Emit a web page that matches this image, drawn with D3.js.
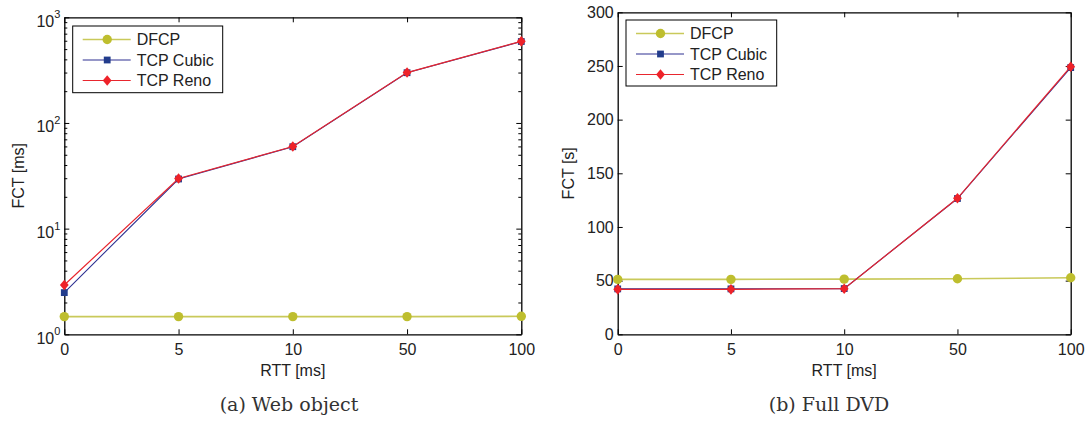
<!DOCTYPE html>
<html>
<head>
<meta charset="utf-8">
<script src="https://cdn.jsdelivr.net/npm/d3@7"></script>
<style>
  html, body { margin: 0; padding: 0; background: #fff; }
  svg { display: block; }
  .tick text { font-family: "Liberation Sans", Arial, sans-serif; font-size: 16px; fill: #222; }
  .lbl { font-family: "Liberation Sans", Arial, sans-serif; font-size: 16px; fill: #222; }
  .cap { font-family: "DejaVu Serif", "Liberation Serif", serif; font-size: 19px; fill: #333; }
</style>
</head>
<body>
<svg id="chart" width="1089" height="421"></svg>
<script>
// RTT categories (evenly spaced on the x axis)
const rtt = ["0", "5", "10", "50", "100"];

// (a) Web object: flow completion time in ms
const webDFCP  = [1.47, 1.47, 1.47, 1.47, 1.48];
const webCubic = [2.48, 29.5, 59.6, 299, 590];
const webReno  = [2.93, 29.8, 59.8, 300, 592];

// (b) Full DVD: flow completion time in s
const dvdDFCP  = [51.2, 51.2, 51.4, 51.8, 52.7];
const dvdCubic = [42.3, 42.3, 42.6, 126.5, 248.5];
const dvdReno  = [41.9, 41.9, 42.5, 126.7, 249.3];

// Tick values
const webYTicks = [1, 10, 100, 1000];
const dvdYTicks = [0, 50, 100, 150, 200, 250, 300];

const seriesNames = ["DFCP", "TCP Cubic", "TCP Reno"];
const styles = [
  { line: "#c9c95a", lw: 1.6, fill: "#bebe2e", shape: "circle" },
  { line: "#2e3192", lw: 1.1, fill: "#223c8c", shape: "square" },
  { line: "#e8262e", lw: 1.2, fill: "#ee2229", shape: "diamond" }
];

const svg = d3.select("#chart");

function marker(g, shape, fill, cx, cy) {
  if (shape === "circle") {
    g.append("circle").attr("cx", cx).attr("cy", cy).attr("r", 4.7).attr("fill", fill);
  } else if (shape === "square") {
    g.append("rect").attr("x", cx - 3.4).attr("y", cy - 3.4).attr("width", 6.8).attr("height", 6.8).attr("fill", fill);
  } else {
    g.append("path")
      .attr("d", `M${cx},${cy - 5.3}L${cx + 4.4},${cy}L${cx},${cy + 5.3}L${cx - 4.4},${cy}Z`)
      .attr("fill", fill);
  }
}

function panel(cfg) {
  const g = svg.append("g");
  const x = d3.scalePoint().domain(rtt).range([cfg.x0, cfg.x1]).padding(0);
  const y = cfg.log
    ? d3.scaleLog().domain([1, 1000]).range([cfg.y1, cfg.y0])
    : d3.scaleLinear().domain([0, 300]).range([cfg.y1, cfg.y0]);

  // axes: ticks point inward on all four sides
  g.append("g").attr("transform", `translate(0,${cfg.y1})`)
    .call(d3.axisBottom(x).tickSize(-5).tickSizeOuter(0).tickPadding(9));
  g.append("g").attr("transform", `translate(0,${cfg.y0})`)
    .call(d3.axisTop(x).tickSize(-5).tickSizeOuter(0).tickFormat(""));

  const left = g.append("g").attr("transform", `translate(${cfg.x0},0)`)
    .call(d3.axisLeft(y).tickValues(cfg.yTicks).tickSize(-5).tickSizeOuter(0).tickPadding(4)
      .tickFormat(cfg.log ? (() => "") : d3.format("d")));
  g.append("g").attr("transform", `translate(${cfg.x1},0)`)
    .call(d3.axisRight(y).tickValues(cfg.yTicks).tickSize(-5).tickSizeOuter(0).tickFormat(""));

  if (cfg.log) {
    const minors = [];
    for (const d of [1, 10, 100]) for (let k = 2; k <= 9; k++) minors.push(d * k);
    g.append("g").attr("transform", `translate(${cfg.x0},0)`)
      .call(d3.axisLeft(y).tickValues(minors).tickSize(-3).tickSizeOuter(0).tickFormat(""))
      .select(".domain").remove();
    g.append("g").attr("transform", `translate(${cfg.x1},0)`)
      .call(d3.axisRight(y).tickValues(minors).tickSize(-3).tickSizeOuter(0).tickFormat(""))
      .select(".domain").remove();
    // power-of-ten labels
    left.selectAll(".tick text").each(function (d) {
      const t = d3.select(this).attr("dy", "0.55em");
      t.append("tspan").text("10");
      t.append("tspan").attr("dy", "-0.75em").attr("font-size", "11px").text(Math.round(Math.log10(d)));
    });
  }
  g.selectAll(".domain").attr("stroke", "#000").attr("stroke-width", 1.3);
  g.selectAll(".tick line").attr("stroke", "#000").attr("stroke-width", 1);

  // series
  cfg.series.forEach((vals, i) => {
    const st = styles[i];
    const line = d3.line().x((d, j) => x(rtt[j])).y(d => y(d));
    g.append("path").datum(vals).attr("d", line)
      .attr("fill", "none").attr("stroke", st.line).attr("stroke-width", st.lw);
    const mg = g.append("g");
    vals.forEach((v, j) => marker(mg, st.shape, st.fill, x(rtt[j]), y(v)));
  });

  // legend
  const L = cfg.legend;
  g.append("rect").attr("x", L.x).attr("y", L.y).attr("width", L.w).attr("height", L.h)
    .attr("fill", "#fff").attr("stroke", "#000").attr("stroke-width", 1);
  seriesNames.forEach((name, i) => {
    const st = styles[i];
    const ry = L.y + 13.5 + i * 20.5;
    g.append("line").attr("x1", L.x + 10).attr("x2", L.x + 58).attr("y1", ry).attr("y2", ry)
      .attr("stroke", st.line).attr("stroke-width", st.lw);
    marker(g, st.shape, st.fill, L.x + 34.5, ry);
    g.append("text").attr("class", "lbl").attr("x", L.x + 64).attr("y", ry).attr("dy", "0.36em").text(name);
  });

  // axis titles and caption
  g.append("text").attr("class", "lbl").attr("text-anchor", "middle")
    .attr("x", (cfg.x0 + cfg.x1) / 2).attr("y", 376).text("RTT [ms]");
  g.append("text").attr("class", "lbl").attr("text-anchor", "middle")
    .attr("transform", `translate(${cfg.ylabX},${(cfg.y0 + cfg.y1) / 2}) rotate(-90)`)
    .text(cfg.yTitle);
  g.append("text").attr("class", "cap").attr("text-anchor", "middle")
    .attr("x", cfg.capX).attr("y", 411).text(cfg.caption);
}

panel({
  x0: 64.3, x1: 521.3, y0: 17.3, y1: 334.3, log: true, yTicks: webYTicks,
  series: [webDFCP, webCubic, webReno],
  legend: { x: 72.7, y: 26, w: 150, h: 66.7 },
  yTitle: "FCT [ms]", ylabX: 24, caption: "(a) Web object", capX: 289
});

panel({
  x0: 617.7, x1: 1070.7, y0: 12.3, y1: 334.3, log: false, yTicks: dvdYTicks,
  series: [dvdDFCP, dvdCubic, dvdReno],
  legend: { x: 626, y: 20, w: 150.7, h: 66 },
  yTitle: "FCT [s]", ylabX: 574, caption: "(b) Full DVD", capX: 829
});
</script>
</body>
</html>
